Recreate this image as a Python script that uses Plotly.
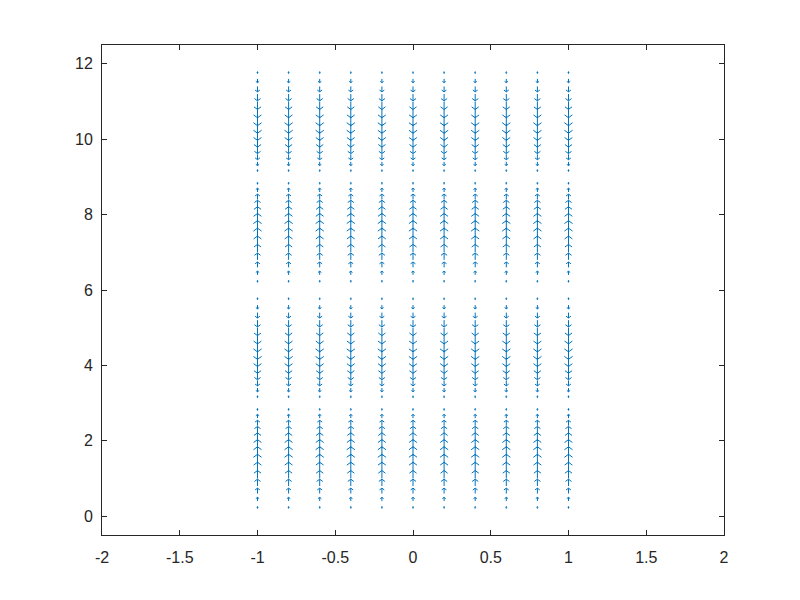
import plotly.graph_objects as go

# Grid of arrow origins (MATLAB-style quiver: x = -1:0.2:1, y = 0:0.2:12)
x_positions = [-1.0, -0.8, -0.6, -0.4, -0.2, 0.0, 0.2, 0.4, 0.6, 0.8, 1.0]
y_positions = [round(0.2 * k, 1) for k in range(61)]

# Vertical component at each row (same for every column); horizontal component is zero
v_row = [0.000, 0.208, 0.407, 0.588, 0.743, 0.866, 0.951, 0.995, 0.995, 0.951,
         0.866, 0.743, 0.588, 0.407, 0.208, 0.000, -0.208, -0.407, -0.588, -0.743,
         -0.866, -0.951, -0.995, -0.995, -0.951, -0.866, -0.743, -0.588, -0.407, -0.208,
         0.000, 0.208, 0.407, 0.588, 0.743, 0.866, 0.951, 0.995, 0.995, 0.951,
         0.866, 0.743, 0.588, 0.407, 0.208, 0.000, -0.208, -0.407, -0.588, -0.743,
         -0.866, -0.951, -0.995, -0.995, -0.951, -0.866, -0.743, -0.588, -0.407, -0.208,
         0.000]
u_row = [0.0] * len(v_row)

x_tick_vals = [-2, -1.5, -1, -0.5, 0, 0.5, 1, 1.5, 2]
x_tick_text = ["-2", "-1.5", "-1", "-0.5", "0", "0.5", "1", "1.5", "2"]
y_tick_vals = [0, 2, 4, 6, 8, 10, 12]
y_tick_text = ["0", "2", "4", "6", "8", "10", "12"]

# MATLAB quiver autoscale
n = len(x_positions)
m = len(y_positions)
delx = (max(x_positions) - min(x_positions)) / n
dely = (max(y_positions) - min(y_positions)) / m
del2 = delx ** 2 + dely ** 2
maxlen = max(((u ** 2 + v ** 2) / del2) ** 0.5 for u, v in zip(u_row, v_row))
scale = 0.9 / maxlen
alpha, beta = 0.33, 0.33

xs, ys = [], []
for xp in x_positions:
    for yp, u0, v0 in zip(y_positions, u_row, v_row):
        u = u0 * scale
        v = v0 * scale
        tx, ty = xp + u, yp + v
        # shaft
        xs += [xp, tx, None]
        ys += [yp, ty, None]
        # head
        xs += [tx - alpha * (u + beta * v), tx, tx - alpha * (u - beta * v), None]
        ys += [ty - alpha * (v - beta * u), ty, ty - alpha * (v + beta * u), None]

fig = go.Figure()
fig.add_trace(go.Scatter(x=xs, y=ys, mode="lines",
                         line=dict(color="#0072BD", width=1),
                         hoverinfo="skip", showlegend=False))

axis_common = dict(showline=True, linecolor="#262626", linewidth=1, mirror="ticks",
                   ticks="inside", ticklen=5, tickcolor="#262626", tickwidth=1,
                   showgrid=False, zeroline=False,
                   tickfont=dict(family="Liberation Sans, Arial", size=16, color="#262626"))

fig.update_layout(
    width=800, height=600,
    margin=dict(l=94, r=84, t=37, b=73),
    paper_bgcolor="white", plot_bgcolor="white",
    xaxis=dict(range=[-2, 2], tickvals=x_tick_vals, ticktext=x_tick_text,
               ticklabelstandoff=8, **axis_common),
    yaxis=dict(range=[-0.5, 12.5], tickvals=y_tick_vals, ticktext=y_tick_text,
               ticklabelstandoff=5, **axis_common),
)

fig.write_html("out.html")
